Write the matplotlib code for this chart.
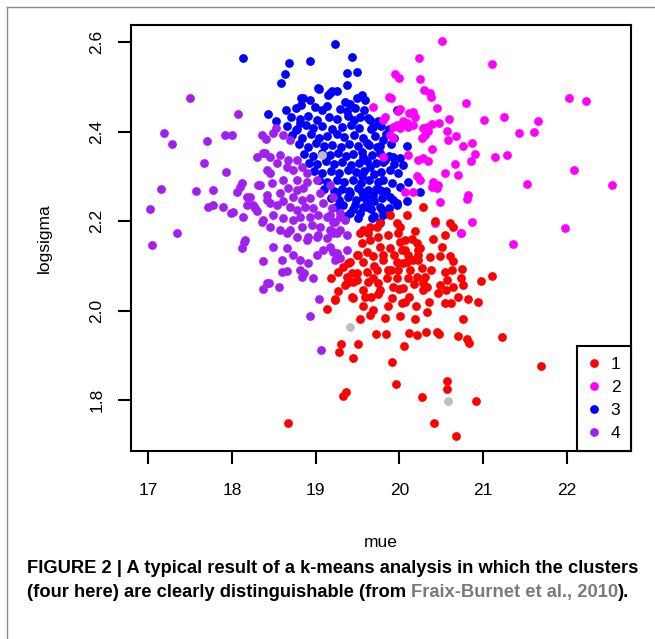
import matplotlib
matplotlib.use("Agg")
import matplotlib.pyplot as plt
from matplotlib.lines import Line2D
from matplotlib import font_manager

# ---------------- data ----------------
red_x = [19.183, 19.27, 19.23, 19.139, 19.449, 19.569, 19.529, 19.299, 19.275, 19.509, 19.449, 19.362, 19.33, 18.673,
         19.53, 19.49, 19.39, 19.43, 19.37, 19.449,
         19.888, 20.087, 20.286, 19.768, 19.649, 19.569, 19.968, 19.988, 19.867, 19.748, 19.649, 19.55, 20.186, 20.207,
         20.067, 20.027, 19.888, 19.768, 19.61, 19.509, 20.106, 20.226, 20.226, 20.087, 19.968, 19.808, 19.688, 19.569,
         19.41, 19.33, 19.27, 19.37, 19.49, 19.61, 19.729, 19.867, 19.988, 20.127, 20.266, 19.49, 19.35, 19.629, 19.748,
         19.848, 19.968, 20.106, 20.207, 20.306, 19.768, 19.927, 20.047, 19.569, 19.43, 20.326, 20.485, 20.465, 20.604,
         20.545, 20.505, 20.485, 20.604, 20.624, 20.545, 20.565, 20.644, 20.704, 20.286,
         19.231, 19.589, 19.748, 19.908, 20.027, 20.067, 19.688, 19.649, 19.828, 20.007, 20.186, 20.333, 20.545, 20.613,
         19.717, 19.836, 20.115, 20.214, 20.314, 20.453, 20.477, 20.704, 20.059, 19.915, 19.956, 20.565, 20.573, 20.266,
         20.007, 20.067, 20.246, 20.226, 20.047, 20.166, 20.286, 19.995, 20.644, 20.744, 20.732, 20.756, 20.553, 21.103,
         20.975, 20.823, 20.943, 21.226, 21.692, 20.764, 20.804, 20.835, 20.915, 20.41, 20.673,
         20.007, 19.729, 19.629, 20.644, 19.69,
         19.80, 19.93, 20.15, 19.70, 20.38, 20.40, 20.36, 20.42, 20.35, 20.20, 19.86, 19.66, 20.12, 19.90, 20.18]
red_y = [2.072, 2.044, 2.025, 2.004, 2.029, 2.010, 1.981, 1.925, 1.907, 1.925, 1.893, 1.819, 1.810, 1.748,
         2.173, 2.124, 2.106, 2.083, 2.061, 2.065,
         2.214, 2.214, 2.231, 2.195, 2.188, 2.180, 2.195, 2.173, 2.169, 2.165, 2.158, 2.151, 2.177, 2.151,
         2.158, 2.136, 2.139, 2.143, 2.132, 2.124, 2.124, 2.136, 2.113, 2.109, 2.109, 2.113, 2.121, 2.109,
         2.109, 2.098, 2.087, 2.076, 2.083, 2.087, 2.091, 2.091, 2.091, 2.091, 2.095, 2.068, 2.057, 2.065, 2.061,
         2.072, 2.072, 2.072, 2.076, 2.076, 2.046, 2.053, 2.050, 2.046, 2.031, 2.053, 2.057, 2.039, 2.195,
         2.169, 2.143, 2.121, 2.121, 2.091, 2.087, 2.068, 2.053, 2.031, 2.046,
         2.024, 2.031, 2.037, 2.028, 2.016, 2.020, 2.001, 1.990, 1.984, 1.988, 1.981, 1.996, 2.016, 2.018,
         1.947, 1.947, 1.951, 1.945, 1.953, 1.953, 1.948, 1.944, 1.921, 1.884, 1.836, 1.843, 1.825, 1.807,
         2.154, 2.136, 2.139, 2.124, 2.106, 2.113, 2.061, 2.048, 2.111, 2.093, 2.072, 2.057, 2.046, 2.078,
         2.067, 2.026, 2.019, 1.941, 1.875, 1.981, 1.936, 1.927, 1.798, 1.748, 1.719,
         2.188, 2.188, 2.173, 2.188, 2.072,
         2.125, 2.125, 2.160, 2.100, 2.090, 2.160, 2.120, 2.200, 2.020, 2.010, 2.010, 2.030, 2.030, 2.090, 2.060]

magenta_x = [20.505, 20.238, 21.106, 19.947, 19.995, 20.246, 20.298, 20.366, 20.378, 19.879, 19.90, 19.681, 20.446,
             20.796, 22.030, 22.226, 20.007, 19.987, 20.166, 20.118, 20.186, 19.828, 19.80, 20.047, 20.087, 19.968,
             19.927, 20.007, 20.106, 20.166, 20.596, 20.47, 20.386, 20.326, 20.286, 20.345, 20.306, 21.014, 21.253,
             21.656, 21.425, 21.605, 20.565, 20.584, 20.676, 20.266, 20.386, 19.927, 19.888, 20.756, 20.864, 20.903,
             20.855, 21.142, 21.282, 20.226, 20.286, 20.345, 19.808, 20.106, 20.664, 20.697, 20.545, 22.086, 21.528,
             22.544, 20.207, 20.246, 20.405, 20.386, 20.446, 20.465, 20.067, 20.166, 20.485, 20.823, 20.811, 20.425,
             20.864, 20.736, 21.978, 21.361, 20.732]
magenta_y = [2.602, 2.564, 2.552, 2.529, 2.521, 2.518, 2.494, 2.486, 2.477, 2.477, 2.475, 2.456, 2.453,
             2.464, 2.476, 2.469, 2.450, 2.447, 2.445, 2.441, 2.434, 2.432, 2.426, 2.423, 2.419, 2.415,
             2.411, 2.408, 2.411, 2.415, 2.428, 2.420, 2.418, 2.411, 2.408, 2.402, 2.393, 2.426, 2.432,
             2.424, 2.397, 2.400, 2.402, 2.382, 2.391, 2.385, 2.361, 2.385, 2.393, 2.367, 2.374, 2.350,
             2.335, 2.344, 2.348, 2.337, 2.341, 2.335, 2.344, 2.347, 2.327, 2.303, 2.308, 2.314, 2.283,
             2.281, 2.300, 2.292, 2.288, 2.277, 2.274, 2.281, 2.266, 2.266, 2.242, 2.259, 2.249, 2.195,
             2.198, 2.174, 2.185, 2.149, 2.173]

blue_x = [18.128, 19.234, 18.685, 18.928, 18.637, 18.589, 19.430, 19.370, 19.497, 19.370, 19.039, 19.17, 19.19,
          19.25, 19.15, 18.427, 18.641, 18.526, 18.85, 18.83, 18.93, 18.82, 19.35, 19.41, 19.49, 19.031, 19.55, 19.59,
          19.53, 19.65, 19.69, 19.968, 20.087, 20.047, 20.106, 20.087, 20.246, 19.927, 20.007, 19.888, 19.988, 19.808,
          19.908, 20.007, 19.768, 19.888, 19.968, 19.788, 19.669, 19.57, 19.61, 19.768, 19.808, 19.828, 19.61, 19.569,
          19.649, 19.55, 18.81, 18.77,
          19.251, 19.41, 19.55, 19.688, 19.788, 19.927, 19.33, 19.47, 19.61, 19.768, 19.968, 19.41, 19.53, 19.808,
          19.768,
          18.76, 18.99, 19.07, 19.13, 19.29, 19.37, 19.47, 19.58,
          18.70, 18.81, 18.91, 19.02, 19.16, 19.25, 19.38, 19.46, 19.62, 19.75,
          18.66, 18.78, 18.88, 18.97, 19.08, 19.20, 19.31, 19.42, 19.52, 19.66, 19.78, 19.87,
          18.72, 18.84, 18.94, 19.04, 19.14, 19.26, 19.34, 19.46, 19.56, 19.71, 19.84, 19.93,
          18.80, 18.91, 19.00, 19.10, 19.19, 19.30, 19.40, 19.50, 19.64, 19.73, 19.90,
          18.86, 18.97, 19.08, 19.17, 19.27, 19.36, 19.45, 19.55, 19.67, 19.77, 19.87,
          18.92, 19.02, 19.12, 19.22, 19.32, 19.42, 19.52, 19.61, 19.72, 19.80, 19.94,
          18.98, 19.08, 19.18, 19.28, 19.38, 19.48, 19.58, 19.70, 19.78,
          19.04, 19.14, 19.26, 19.34, 19.44, 19.54, 19.64, 19.74,
          19.10, 19.22, 19.32, 19.40, 19.50, 19.62, 19.72, 19.84,
          19.18, 19.28, 19.38, 19.48, 19.60, 19.70,
          19.24, 19.44, 19.56, 19.66, 19.88,
          19.36, 19.50, 19.70]
blue_y = [2.566, 2.596, 2.554, 2.559, 2.529, 2.510, 2.567, 2.531, 2.533, 2.505, 2.496, 2.487, 2.491,
          2.490, 2.482, 2.440, 2.449, 2.425, 2.476, 2.475, 2.471, 2.460, 2.467, 2.462, 2.475, 2.497, 2.482, 2.471,
          2.434, 2.426, 2.411, 2.449, 2.367, 2.326, 2.288, 2.244, 2.266, 2.344, 2.341, 2.315, 2.307, 2.292,
          2.285, 2.277, 2.270, 2.255, 2.240, 2.225, 2.206, 2.255, 2.232, 2.367, 2.382, 2.337, 2.374, 2.344,
          2.322, 2.300, 2.419, 2.404,
          2.262, 2.262, 2.266, 2.259, 2.251, 2.247, 2.236, 2.236, 2.240, 2.232, 2.236, 2.218, 2.218, 2.214,
          2.199,
          2.452, 2.455, 2.448, 2.457, 2.451, 2.446, 2.454, 2.449,
          2.432, 2.428, 2.435, 2.426, 2.433, 2.428, 2.436, 2.427, 2.431, 2.425,
          2.412, 2.407, 2.414, 2.409, 2.413, 2.405, 2.411, 2.415, 2.408, 2.405, 2.412, 2.407,
          2.392, 2.387, 2.394, 2.386, 2.391, 2.395, 2.388, 2.392, 2.386, 2.390, 2.394, 2.387,
          2.372, 2.366, 2.374, 2.368, 2.371, 2.365, 2.373, 2.367, 2.371, 2.366, 2.372,
          2.351, 2.346, 2.353, 2.347, 2.352, 2.345, 2.351, 2.354, 2.348, 2.352, 2.346,
          2.331, 2.327, 2.334, 2.328, 2.333, 2.326, 2.331, 2.335, 2.329, 2.333, 2.327,
          2.312, 2.307, 2.313, 2.308, 2.314, 2.309, 2.312, 2.306, 2.311,
          2.292, 2.287, 2.293, 2.288, 2.291, 2.286, 2.292, 2.288,
          2.272, 2.267, 2.273, 2.268, 2.274, 2.269, 2.273, 2.268,
          2.252, 2.247, 2.253, 2.248, 2.252, 2.246,
          2.231, 2.228, 2.232, 2.227, 2.229,
          2.212, 2.208, 2.211]

purple_x = [17.498, 18.068, 17.188, 17.287, 17.705, 17.916, 18.004, 17.665, 17.928, 17.148, 17.570, 17.769, 17.020,
            17.71, 17.777, 17.896, 17.988, 18.135, 17.347, 18.116, 18.056, 18.096, 18.175, 18.247, 18.295, 18.33,
            18.355, 17.048, 18.116, 18.143, 18.155, 18.374, 18.594, 18.594, 18.661, 18.438, 18.367, 18.562, 18.86,
            18.97, 19.036, 18.935, 19.063, 18.415, 18.406, 18.295, 18.394, 18.415, 18.415, 18.52,
            18.355, 18.494, 18.613, 18.693, 18.374, 18.454, 18.573, 18.673, 18.773, 18.534, 18.653, 18.732,
            18.833, 18.892, 18.454, 18.613, 18.773, 18.892, 19.012, 18.314, 18.474, 18.673, 18.773, 18.852, 18.215,
            18.415, 18.573, 18.732, 18.833, 18.932, 19.051, 19.171, 19.211, 18.176, 18.275, 18.454, 18.534, 18.613,
            18.693, 18.773, 18.872, 18.971, 19.091, 19.191, 19.29, 19.35, 18.016, 18.374, 18.494, 18.613, 18.732,
            18.812, 18.932, 19.031, 19.131, 19.211, 18.454, 18.573, 18.693, 18.833, 18.952, 19.051, 19.171, 19.29,
            19.37, 18.773, 18.912, 19.031, 19.131,
            18.653, 18.892, 19.012, 19.211, 18.653, 18.732, 18.812, 18.912, 19.012, 19.091, 19.171, 19.251, 19.37,
            18.494, 18.812, 18.833,
            19.171, 19.231, 19.29, 19.191, 19.251, 19.211, 19.29, 19.231]
purple_y = [2.476, 2.439, 2.398, 2.372, 2.379, 2.393, 2.393, 2.331, 2.309, 2.271, 2.268, 2.270, 2.228,
            2.231, 2.236, 2.231, 2.218, 2.209, 2.174, 2.285, 2.266, 2.277, 2.253, 2.236, 2.223, 2.281,
            2.199, 2.146, 2.139, 2.154, 2.158, 2.111, 2.113, 2.087, 2.089, 2.061, 2.048, 2.052, 2.083,
            2.072, 2.025, 1.989, 1.912, 2.061, 2.383, 2.344, 2.352, 2.315, 2.247, 2.408,
            2.393, 2.397, 2.393, 2.382, 2.352, 2.344, 2.348, 2.337, 2.337, 2.330, 2.322, 2.315,
            2.322, 2.307, 2.307, 2.292, 2.292, 2.288, 2.292, 2.281, 2.285, 2.274, 2.270, 2.274, 2.255,
            2.259, 2.262, 2.255, 2.247, 2.251, 2.262, 2.281, 2.255, 2.236, 2.229, 2.240, 2.236, 2.244,
            2.232, 2.225, 2.232, 2.229, 2.240, 2.229, 2.218, 2.203, 2.221, 2.203, 2.214, 2.206, 2.203,
            2.210, 2.210, 2.214, 2.210, 2.199, 2.188, 2.180, 2.180, 2.188, 2.191, 2.188, 2.180, 2.180,
            2.169, 2.165, 2.165, 2.169, 2.162,
            2.173, 2.158, 2.165, 2.173, 2.139, 2.124, 2.113, 2.106, 2.124, 2.136, 2.143, 2.128, 2.136,
            2.143, 2.091, 2.076,
            2.214, 2.199, 2.210, 2.177, 2.173, 2.132, 2.117, 2.113]

gray_x = [19.072, 19.413, 20.584]
gray_y = [2.347, 1.963, 1.798]

legend_labels = ["1", "2", "3", "4"]
colors = ["#FF0000", "#FF00FF", "#0000FF", "#A020F0"]
x_ticks = [17, 18, 19, 20, 21, 22]
y_ticks = [1.8, 2.0, 2.2, 2.4, 2.6]

# ---------------- fonts ----------------
names = {f.name for f in font_manager.fontManager.ttflist}
base_font = "Liberation Sans" if "Liberation Sans" in names else "DejaVu Sans"
plt.rcParams["font.family"] = [base_font, "DejaVu Sans"]

W, H = 655, 639
fig = plt.figure(figsize=(W / 100, H / 100), dpi=100)
ax = fig.add_axes([131 / W, 1 - 451 / H, 500 / W, 426 / H])

ms = 40
ax.scatter(blue_x, blue_y, s=ms, c=colors[2], linewidths=0, zorder=2)
ax.scatter(magenta_x, magenta_y, s=ms, c=colors[1], linewidths=0, zorder=2)
ax.scatter(purple_x, purple_y, s=ms, c=colors[3], linewidths=0, zorder=2)
ax.scatter(red_x, red_y, s=ms, c=colors[0], linewidths=0, zorder=2)
ax.scatter(gray_x, gray_y, s=ms, c="#BEBEBE", linewidths=0, zorder=3)

ax.set_xlim(16.793, 22.767)
ax.set_ylim(1.686, 2.6387)
ax.set_xticks(x_ticks)
ax.set_xticklabels([str(t) for t in x_ticks])
ax.set_yticks(y_ticks)
ax.set_yticklabels([f"{t:.1f}" for t in y_ticks], rotation=90, va="center")
ax.tick_params(direction="out", length=9.5, width=1.5, labelsize=12.5, colors="black")
ax.tick_params(axis="x", pad=13.5)
ax.tick_params(axis="y", pad=9.5)
for s in ax.spines.values():
    s.set_linewidth(1.5)
ax.set_xlabel("mue", fontsize=12.5, labelpad=27)
ax.set_ylabel("logsigma", fontsize=12.5, labelpad=27)

handles = [Line2D([], [], marker="o", linestyle="none", markersize=6.3, markerfacecolor=c,
                  markeredgewidth=0) for c in colors]
leg = ax.legend(handles, legend_labels, loc="lower right", borderaxespad=0, fancybox=False,
                edgecolor="black", framealpha=1, fontsize=12.5, handlelength=0.8,
                handletextpad=0.55, labelspacing=0.45, borderpad=0.6)
leg.get_frame().set_linewidth(1.5)

# figure frame lines (top and left)
fig.add_artist(Line2D([7 / W, 7 / W], [0, 1 - 7 / H], color="#8a8a8a", linewidth=1.0))
fig.add_artist(Line2D([7 / W, 1], [1 - 7 / H, 1 - 7 / H], color="#8a8a8a", linewidth=1.0))

# caption
cap_kw = dict(fontsize=13.2, fontweight="bold", family=[base_font, "DejaVu Sans"], va="baseline", ha="left")
fig.text(27 / W, 1 - 573 / H, "FIGURE 2 | A typical result of a k-means analysis in which the clusters", **cap_kw)
t1 = fig.text(27 / W, 1 - 597 / H, "(four here) are clearly distinguishable (from ", **cap_kw)
t2 = fig.text(0, 0, "Fraix-Burnet et al., 2010", color="#7a7a7a", **cap_kw)
t3 = fig.text(0, 0, ").", **cap_kw)
fig.canvas.draw()
r = fig.canvas.get_renderer()
bb1 = t1.get_window_extent(r)
t2.set_position((bb1.x1 / fig.bbox.width, 1 - 597 / H))
fig.canvas.draw()
bb2 = t2.get_window_extent(r)
t3.set_position((bb2.x1 / fig.bbox.width, 1 - 597 / H))

fig.savefig("out.png", dpi=100)
